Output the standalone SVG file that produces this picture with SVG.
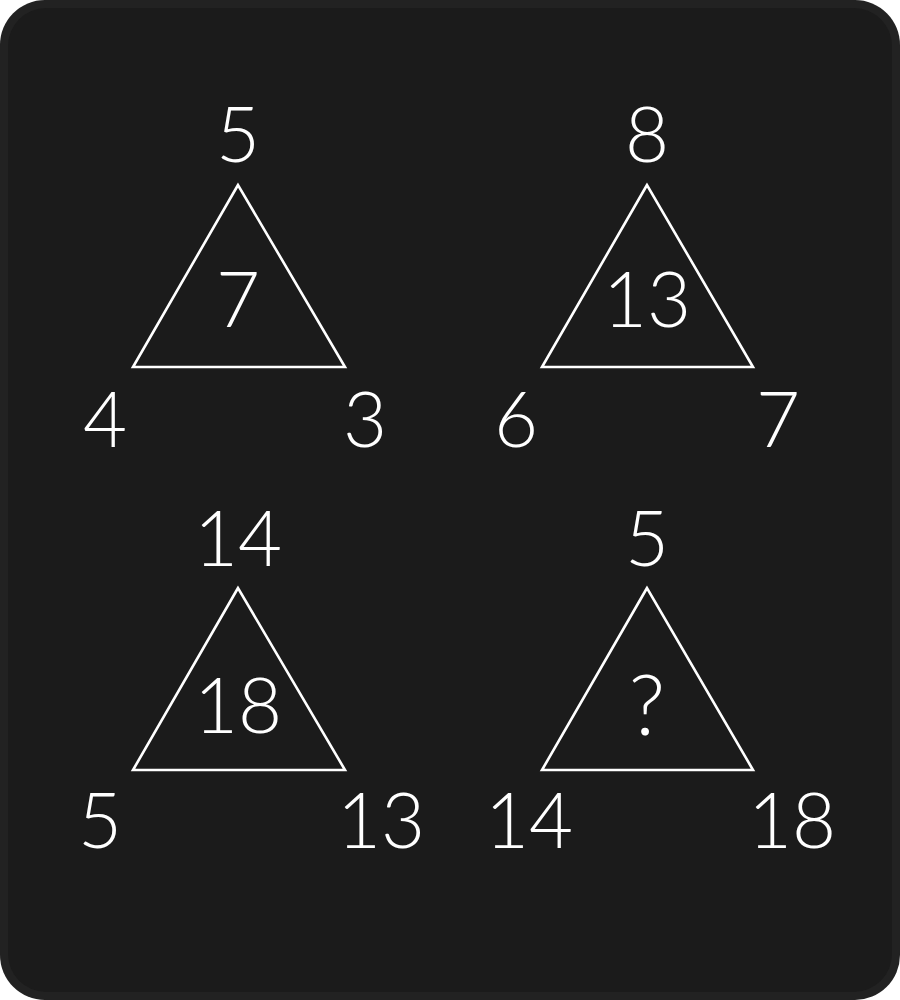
<svg xmlns="http://www.w3.org/2000/svg" width="900" height="1000" viewBox="0 0 900 1000">
<defs>
<style>
.t{fill:none;stroke:#fff;stroke-width:2.6;stroke-linejoin:miter}
.n{fill:#fff;font-family:Lato,"Open Sans","Liberation Sans",sans-serif;font-weight:300;font-size:76px;text-anchor:middle}
</style>
</defs>
<rect width="900" height="1000" fill="#fff"/>
<rect x="0" y="0" width="900" height="1000" rx="45" fill="#222"/>
<rect x="8" y="8" width="884" height="984" rx="38" fill="#1b1b1b"/>
<g id="tri1">
<polygon class="t" points="238,185 133,367 345,367"/>
<text class="n" x="238" y="162">5</text>
<text class="n" x="238" y="327">7</text>
<text class="n" x="105" y="447">4</text>
<text class="n" x="365" y="447">3</text>
</g>
<g id="tri2">
<polygon class="t" points="647,185 542,367 753,367"/>
<text class="n" x="647" y="162">8</text>
<text class="n" x="647" y="327">13</text>
<text class="n" x="516" y="447">6</text>
<text class="n" x="778" y="447">7</text>
</g>
<g id="tri3">
<polygon class="t" points="238,588 133,770 345,770"/>
<text class="n" x="238" y="566">14</text>
<text class="n" x="238" y="733">18</text>
<text class="n" x="100" y="848">5</text>
<text class="n" x="381" y="848">13</text>
</g>
<g id="tri4">
<polygon class="t" points="647,588 542,770 753,770"/>
<text class="n" x="647" y="566">5</text>
<text class="n" x="647" y="735" style="font-size:84px">?</text>
<text class="n" x="529" y="848">14</text>
<text class="n" x="792" y="848">18</text>
</g>
<g id="connectors"/>
</svg>
